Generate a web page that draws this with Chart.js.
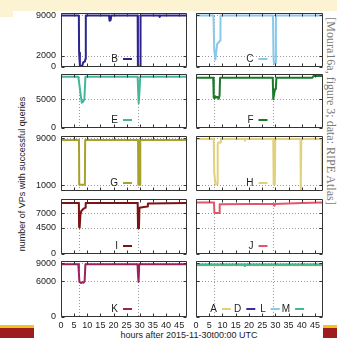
<!DOCTYPE html>
<html>
<head>
<meta charset="utf-8">
<script src="https://cdn.jsdelivr.net/npm/chart.js@4.4.1/dist/chart.umd.min.js"></script>
<style>
  html, body { margin: 0; padding: 0; background: #fff; }
  #page { position: relative; width: 337px; height: 338px; overflow: hidden; background: #fff;
          font-family: "Liberation Sans", Arial, sans-serif; }
  #page canvas { position: absolute; }
  .blk { position: absolute; }
  .lbl { position: absolute; white-space: nowrap; color: #222; font-size: 9px; line-height: 1; }
  #ytitle { left: 22px; top: 174px; transform: translate(-50%, -50%) rotate(-90deg); }
  #xtitle { left: 189px; top: 335px; transform: translate(-50%, -50%); }
  #source { left: 331px; top: 111px; transform: translate(-50%, -50%) rotate(90deg);
            font-family: "Liberation Serif", "Times New Roman", serif; font-size: 12px; color: #7a7a7a; }
</style>
</head>
<body>
<div id="page">
  <div class="blk" style="left:0;top:0;width:337px;height:11px;background:#fcf3d3"></div>
  <div class="blk" style="left:0;top:0;width:13px;height:17px;background:#fcf3d3"></div>
  <div class="blk" style="left:0;top:325px;width:34px;height:3px;background:#f0c419"></div>
  <div class="blk" style="left:0;top:328px;width:34px;height:10px;background:#9e1c1f"></div>
  <div class="blk" style="left:323px;top:325px;width:14px;height:3px;background:#f0c419"></div>
  <div class="blk" style="left:323px;top:328px;width:14px;height:10px;background:#9e1c1f"></div>
  <div class="lbl" id="ytitle">number of VPs with successful queries</div>
  <div class="lbl" id="xtitle">hours after 2015-11-30t00:00 UTC</div>
  <div class="lbl" id="source">[Moura16a, figure 3; data: RIPE Atlas]</div>
</div>
<script>
// x axis
const hourTicks = [0, 5, 10, 15, 20, 25, 30, 35, 40, 45];
const eventLines = [6.83, 29.17];   // dotted verticals, start of both events

// y ticks per row
const ticksBC = [0, 2000, 9000];
const ticksEF = [0, 5000];
const ticksGH = [1000, 9000];
const ticksIJ = [0, 4500, 7000];
const ticksK  = [0, 6000, 9000];

// series (hours after 2015-11-30 00:00 UTC, number of VPs)
const bHours  = [0, 6.8, 6.9, 7.2, 7.8, 8.2, 8.5, 9.1, 9.3, 9.45, 18.3, 18.5, 18.9, 19.2, 29.2, 29.3, 30.1, 30.3, 37.4, 37.6, 37.8, 48];
const bValues = [8950, 8950, 2500, 200, 150, 350, 850, 950, 1400, 8950, 8950, 8050, 8150, 8950, 8950, 50, 50, 8950, 8950, 8700, 8950, 8950];

const cHours  = [0, 6.6, 6.9, 7.3, 7.6, 8.0, 8.8, 9.1, 9.25, 29.1, 29.3, 29.5, 30.0, 30.2, 48];
const cValues = [8950, 8950, 3000, 1300, 2500, 4000, 4400, 4600, 8950, 8950, 1500, 600, 700, 8950, 8950];

const eHours  = [0, 6.6, 7.9, 8.3, 8.9, 9.3, 29.2, 29.4, 29.6, 29.9, 30.2, 48];
const eValues = [8900, 8900, 4400, 4500, 5000, 8900, 8900, 6500, 4300, 6500, 8900, 8900];

const fHours  = [0, 6.5, 6.7, 7.0, 7.4, 7.8, 8.2, 8.6, 8.9, 9.1, 29.0, 29.2, 29.5, 29.9, 30.2, 30.4, 44.0, 44.4, 48];
const fValues = [8750, 8750, 5300, 5100, 5500, 5300, 5400, 5100, 5600, 8750, 8750, 5000, 5800, 6800, 7200, 8750, 8750, 9050, 9050];

const gHours  = [0, 6.85, 6.95, 9.1, 9.2, 29.35, 29.45, 30.1, 30.2, 48];
const gValues = [8700, 8700, 1050, 1050, 8700, 8700, 1050, 1050, 8700, 8700];

const hHours  = [0, 6.7, 6.9, 7.4, 8.0, 8.2, 8.4, 9.2, 9.4, 18.3, 18.5, 18.7, 29.2, 29.35, 29.8, 29.95, 39.5, 39.6, 39.8, 47.5, 47.6, 48];
const hValues = [8900, 8900, 3000, 1150, 1200, 7800, 8300, 8300, 8900, 8900, 8600, 8900, 8900, 1100, 1100, 8900, 8900, 300, 8900, 8900, 1000, 1000];

const iHours  = [0, 6.8, 6.9, 7.1, 7.4, 7.7, 8.5, 9.2, 9.4, 29.2, 29.35, 29.7, 29.9, 31.0, 32.8, 33.1, 48];
const iValues = [8700, 8700, 4600, 4500, 6700, 7300, 7700, 7900, 8700, 8700, 4400, 4500, 7900, 8000, 8100, 8650, 8700];

const jHours  = [0, 6.8, 6.95, 8.8, 8.95, 20, 29.4, 29.55, 29.7, 40, 48];
const jValues = [8800, 8800, 7000, 7000, 8500, 8550, 8550, 8250, 8550, 8700, 8800];

const kHours  = [0, 6.6, 6.8, 7.0, 7.6, 8.0, 8.6, 9.0, 9.3, 29.15, 29.35, 29.55, 29.8, 48];
const kValues = [8850, 8850, 7500, 5900, 5700, 5850, 5750, 6000, 8850, 8850, 7000, 5900, 8850, 8850];

const aHours  = [0, 48];
const aValues = [8700, 8700];
const dHours  = [0, 48];
const dValues = [8760, 8760];
const lHours  = [0, 48];
const lValues = [8780, 8780];
const mHours  = [0, 18.3, 18.45, 18.6, 48];
const mValues = [8750, 8750, 8550, 8750, 8750];

const series = {
  A: [aHours, aValues, '#e3d07c'],
  B: [bHours, bValues, '#2d2490'],
  C: [cHours, cValues, '#88c8ea'],
  D: [dHours, dValues, '#3a2e9a'],
  E: [eHours, eValues, '#43b69b'],
  F: [fHours, fValues, '#1b7a28'],
  G: [gHours, gValues, '#a7a22c'],
  H: [hHours, hValues, '#e3d07c'],
  I: [iHours, iValues, '#7c1213'],
  J: [jHours, jValues, '#e0566a'],
  K: [kHours, kValues, '#9d2160'],
  L: [lHours, lValues, '#88c8ea'],
  M: [mHours, mValues, '#43b69b']
};

// panel grid
const rowTops    = [13, 74, 136, 199, 261];
const rowBottoms = [67, 128, 191, 254, 317];
const colLefts   = [61, 196];
const colRights  = [187, 323];
const panels = [
  { row: 0, col: 0, ticks: ticksBC, keys: ['B'] },
  { row: 0, col: 1, ticks: ticksBC, keys: ['C'] },
  { row: 1, col: 0, ticks: ticksEF, keys: ['E'] },
  { row: 1, col: 1, ticks: ticksEF, keys: ['F'] },
  { row: 2, col: 0, ticks: ticksGH, keys: ['G'] },
  { row: 2, col: 1, ticks: ticksGH, keys: ['H'] },
  { row: 3, col: 0, ticks: ticksIJ, keys: ['I'] },
  { row: 3, col: 1, ticks: ticksIJ, keys: ['J'] },
  { row: 4, col: 0, ticks: ticksK,  keys: ['K'] },
  { row: 4, col: 1, ticks: ticksK,  keys: ['A', 'D', 'L', 'M'] }
];

const PADL = 40, PADR = 4, PADT = 6, PADB = 18;
Chart.defaults.font.family = '"Liberation Sans", Arial, sans-serif';
Chart.defaults.font.size = 9;
Chart.defaults.color = '#222';

function decor(p) {
  return {
    id: 'decor',
    beforeDatasetsDraw(chart) {
      const { ctx, chartArea: a, scales: { x, y } } = chart;
      ctx.save();
      ctx.strokeStyle = '#9a9a9a';
      ctx.lineWidth = 1;
      ctx.setLineDash([1, 2]);
      ctx.beginPath();
      eventLines.forEach(h => {
        const px = Math.round(x.getPixelForValue(h)) + 0.5;
        ctx.moveTo(px, a.top); ctx.lineTo(px, a.bottom);
      });
      p.ticks.forEach(v => {
        if (v === 0) return;
        const py = Math.round(y.getPixelForValue(v)) + 0.5;
        ctx.moveTo(a.left, py); ctx.lineTo(a.right, py);
      });
      ctx.stroke();
      ctx.restore();
    },
    afterDatasetsDraw(chart) {
      const { ctx, chartArea: a, scales: { x, y } } = chart;
      const l = Math.round(a.left) + 0.5, r = Math.round(a.right) - 0.5;
      const t = Math.round(a.top) + 0.5, b = Math.round(a.bottom) - 0.5;
      ctx.save();
      ctx.strokeStyle = '#333';
      ctx.lineWidth = 1;
      ctx.beginPath();
      ctx.rect(l, t, r - l, b - t);
      hourTicks.forEach(h => {
        const px = Math.round(x.getPixelForValue(h)) + 0.5;
        ctx.moveTo(px, b); ctx.lineTo(px, b - 3);
        ctx.moveTo(px, t); ctx.lineTo(px, t + 3);
      });
      p.ticks.forEach(v => {
        const py = Math.round(y.getPixelForValue(v)) + 0.5;
        ctx.moveTo(l, py); ctx.lineTo(l + 3, py);
        ctx.moveTo(r, py); ctx.lineTo(r - 3, py);
      });
      ctx.stroke();

      // key: label then line sample, centred near the bottom
      const n = p.keys.length, pitch = 24.4;
      const cx = (a.left + a.right) / 2 - 1;
      const ky = a.bottom - 8;
      ctx.font = '10px "Liberation Sans", Arial, sans-serif';
      ctx.fillStyle = '#222';
      ctx.textAlign = 'right';
      ctx.textBaseline = 'middle';
      ctx.lineWidth = 2;
      p.keys.forEach((k, i) => {
        const s = cx + (i - (n - 1) / 2) * pitch;
        ctx.fillText(k, s - 5, ky);
        ctx.strokeStyle = series[k][2];
        ctx.beginPath();
        ctx.moveTo(s, ky); ctx.lineTo(s + 9, ky);
        ctx.stroke();
      });
      ctx.restore();
    }
  };
}

const page = document.getElementById('page');
panels.forEach(p => {
  const w = colRights[p.col] - colLefts[p.col];
  const h = rowBottoms[p.row] - rowTops[p.row];
  const cv = document.createElement('canvas');
  cv.width = w + PADL + PADR;
  cv.height = h + PADT + PADB;
  cv.style.left = (colLefts[p.col] - PADL) + 'px';
  cv.style.top = (rowTops[p.row] - PADT) + 'px';
  page.appendChild(cv);

  const n = p.keys.length;
  new Chart(cv, {
    type: 'line',
    data: {
      datasets: p.keys.map((k, i) => ({
        label: k,
        data: series[k][0].map((hr, j) => ({ x: hr, y: series[k][1][j] })),
        borderColor: series[k][2],
        borderWidth: 2,
        borderJoinStyle: 'round',
        pointRadius: 0,
        tension: 0,
        fill: false,
        order: n - 1 - i
      }))
    },
    options: {
      responsive: false,
      animation: false,
      devicePixelRatio: 1,
      events: [],
      layout: { padding: { left: 0, top: PADT, right: PADR, bottom: 0 } },
      plugins: { legend: { display: false }, tooltip: { enabled: false } },
      scales: {
        x: {
          type: 'linear', min: 0, max: 48,
          afterBuildTicks: s => { s.ticks = hourTicks.map(v => ({ value: v })); },
          grid: { display: false, drawTicks: false },
          border: { display: false },
          ticks: { display: p.row === 4, padding: 3, maxRotation: 0, autoSkip: false, color: '#222',
                   callback: v => String(v) },
          afterFit: s => { s.height = PADB; s.paddingLeft = 0; s.paddingRight = 0; }
        },
        y: {
          min: 0, max: 9400,
          afterBuildTicks: s => { s.ticks = p.ticks.map(v => ({ value: v })); },
          grid: { display: false, drawTicks: false },
          border: { display: false },
          ticks: { display: p.col === 0, padding: 5, color: '#222', callback: v => String(v) },
          afterFit: s => { s.width = PADL; s.paddingTop = 0; s.paddingBottom = 0; }
        }
      }
    },
    plugins: [decor(p)]
  });
});
</script>
</body>
</html>
